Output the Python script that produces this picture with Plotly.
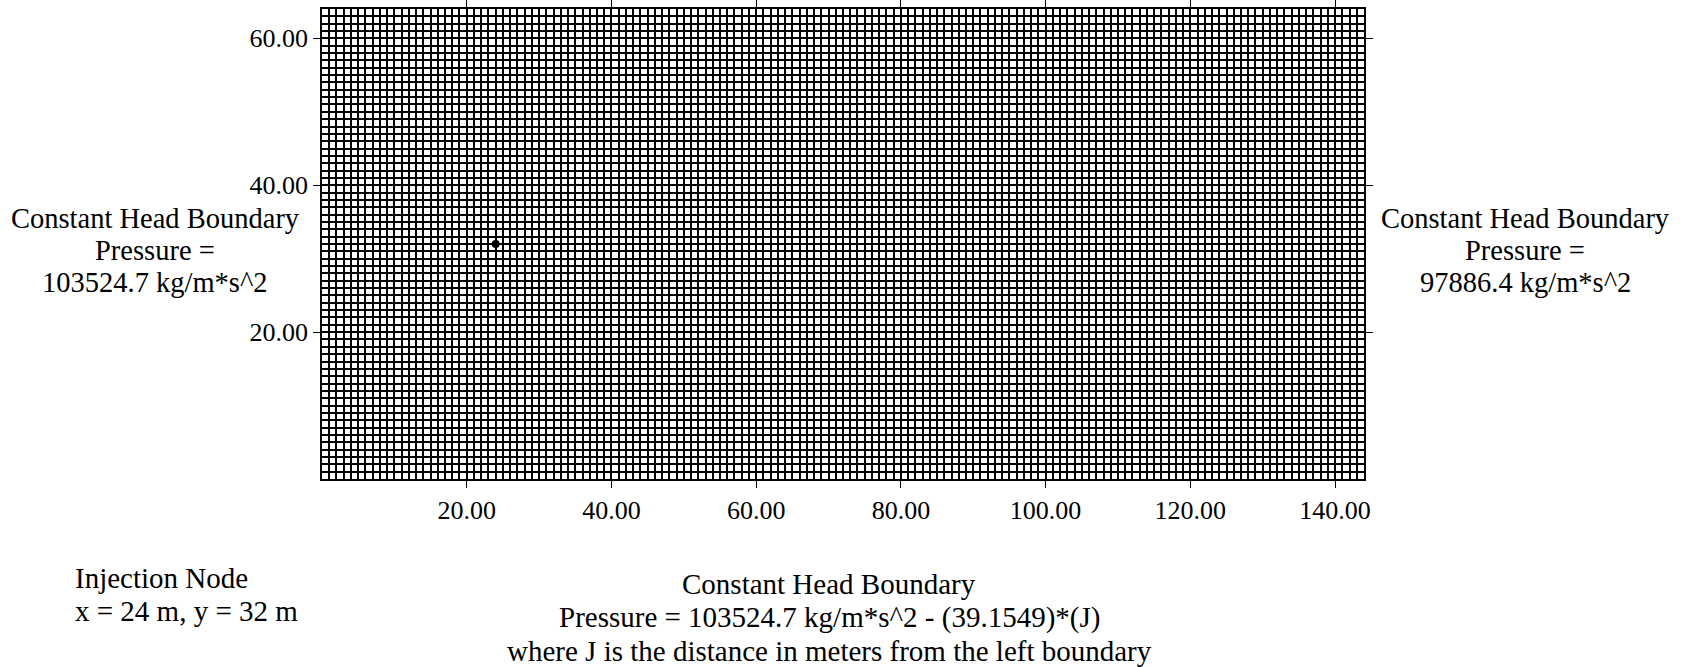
import plotly.graph_objects as go

# ---- data ----
grid_x_max = 144          # model domain width (m)
grid_y_max = 64           # model domain height (m)
cell_size = 1             # grid spacing (m)
x_tick_vals = [20, 40, 60, 80, 100, 120, 140]
y_tick_vals = [20, 40, 60]
injection_x = [24]
injection_y = [32]

left_lines = ["Constant Head Boundary", "Pressure =", "103524.7 kg/m*s^2"]
right_lines = ["Constant Head Boundary", "Pressure =", "97886.4 kg/m*s^2"]
bottom_lines = ["Constant Head Boundary",
                "Pressure = 103524.7 kg/m*s^2 - (39.1549)*(J)",
                "where J is the distance in meters from the left boundary"]
node_lines = ["Injection Node", "x = 24 m, y = 32 m"]

# ---- layout geometry (page pixels) ----
W, H = 1690, 667
PL, PR, PT, PB = 322, 1364, 9, 479
FONT = "Liberation Serif"


def px(xp):
    return (xp - PL) / (PR - PL)


def py(yp):
    return (PB - yp) / (PB - PT)


fig = go.Figure()
fig.add_trace(go.Scatter(x=injection_x, y=injection_y, mode="markers",
                         marker=dict(color="black", size=8), showlegend=False,
                         hoverinfo="skip"))

axis_common = dict(
    showline=True, linecolor="black", linewidth=1.5, mirror="ticks",
    ticks="outside", ticklen=7, tickcolor="black", tickwidth=1,
    showgrid=True, gridcolor="black", gridwidth=1.8,
    zeroline=False, tickformat=".2f",
    tickfont=dict(family=FONT, size=26, color="black"),
)

fig.update_xaxes(range=[0, grid_x_max], tickvals=x_tick_vals,
                 minor=dict(dtick=cell_size, tick0=0, showgrid=True,
                            gridcolor="black", gridwidth=1.8, ticks=""),
                 **axis_common)
fig.update_yaxes(range=[0, grid_y_max], tickvals=y_tick_vals,
                 minor=dict(dtick=cell_size, tick0=0, showgrid=True,
                            gridcolor="black", gridwidth=1.8, ticks=""),
                 **axis_common)

annotations = []


def add_block(lines, xc, ys, anchor="center", size=29):
    for t, yv in zip(lines, ys):
        annotations.append(dict(
            text=t, x=px(xc), y=py(yv), xref="paper", yref="paper",
            xanchor=anchor, yanchor="middle", showarrow=False,
            font=dict(family=FONT, size=size, color="black")))


add_block(left_lines, 155, [218, 250, 282], size=28.5)
add_block(right_lines, 1525, [218, 250, 282], size=28.5)
add_block(bottom_lines, 829, [584, 617, 651])
add_block(node_lines, 73, [578, 611], anchor="left")

fig.update_layout(
    width=W, height=H, autosize=False,
    margin=dict(l=PL, r=W - PR, t=PT, b=H - PB, autoexpand=False),
    paper_bgcolor="white", plot_bgcolor="white",
    annotations=annotations, showlegend=False,
)

fig.write_html("out.html",
               config={"displayModeBar": False},
               post_script="document.body.style.margin='0';"
                           "document.body.style.overflow='hidden';")
